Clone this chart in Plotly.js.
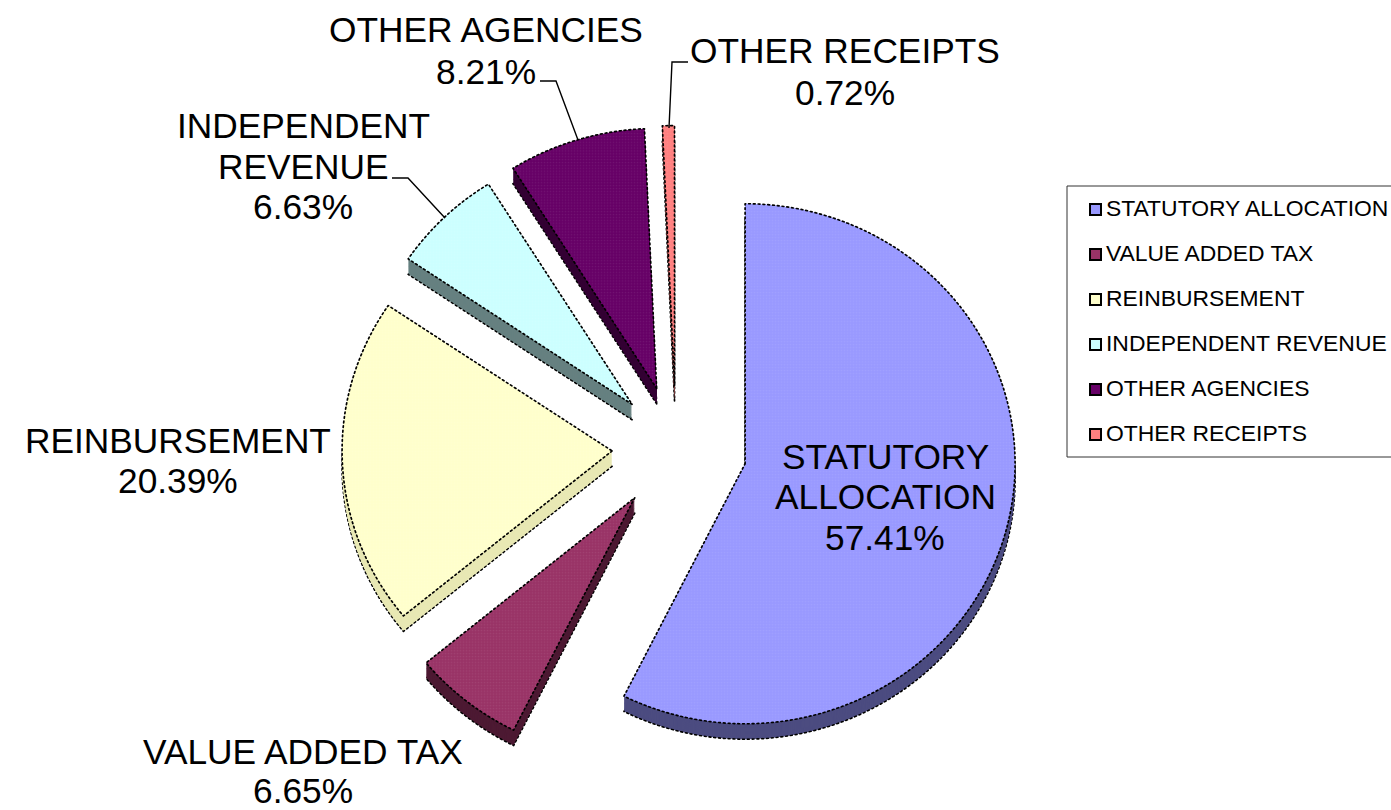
<!DOCTYPE html>
<html>
<head>
<meta charset="utf-8">
<script src="https://cdn.plot.ly/plotly-3.0.1.min.js"></script>
<style>
html,body{margin:0;padding:0;background:#fff;overflow:hidden}
#chart{width:1391px;height:810px}
.pielayer .slice path.surface{stroke-dasharray:1.8 3;stroke-linecap:round}
.pielayer{transform-origin:676px 448px;transform:scaleY(0.963)}
</style>
</head>
<body>
<div id="chart"></div>
<script>
const categories = ['STATUTORY ALLOCATION','VALUE ADDED TAX','REINBURSEMENT','INDEPENDENT REVENUE','OTHER AGENCIES','OTHER RECEIPTS'];
const shares = [57.41, 6.65, 20.39, 6.63, 8.21, 0.72];
const topColors = ['#9999FF','#993366','#FFFFCC','#CCFFFF','#660066','#FF8080'];
const sideColors = ['#4C4C80','#4D1A33','#E8E8B4','#668080','#330033','#804040'];
const pulls = [0.263, 0.245, 0.237, 0.234, 0.240, 0.240];

const W = 1391, H = 810;
const px = x => x / W, py = y => 1 - y / H;
const FONT = 'Liberation Sans, Arial, sans-serif';

// pie placement (pixels)
const cx = 676, cy = 448, R = 270, depth = 16;
const half = R * (1 + Math.max(...pulls));

function pie(dy, colors, lineW, isTop) {
  const t = {
    type: 'pie', labels: categories, values: shares, sort: false, direction: 'clockwise', rotation: 0,
    pull: pulls, textinfo: 'none', showlegend: false,
    hoverinfo: isTop ? 'label+percent' : 'skip',
    domain: { x: [px(cx - half), px(cx + half)], y: [py(cy + dy + half), py(cy + dy - half)] },
    marker: { colors: colors, line: { color: '#000', width: lineW } }
  };
  if (isTop) t.marker.pattern = { shape: '.', size: 3, solidity: 0.25, fgcolor: '#ffffff', fgopacity: 0.07, fillmode: 'overlay' };
  return t;
}
const data = [];
for (let d = depth; d >= 1; d--) data.push(pie(d, sideColors, d === depth ? 1.7 : 0, false));
data.push(pie(0, topColors, 1.7, true));

const pct = v => v.toFixed(2) + '%';
const dataLabels = [
  { lines: ['STATUTORY', 'ALLOCATION', pct(shares[0])], x: 885, y: [456, 496, 537] },
  { lines: ['VALUE ADDED TAX', pct(shares[1])], x: 303, y: [751, 790] },
  { lines: ['REINBURSEMENT', pct(shares[2])], x: 178, y: [440, 481] },
  { lines: ['INDEPENDENT', 'REVENUE', pct(shares[3])], x: 303, y: [125, 166, 207] },
  { lines: ['OTHER AGENCIES', pct(shares[4])], x: 486, y: [30, 71] },
  { lines: ['OTHER RECEIPTS', pct(shares[5])], x: 845, y: [50, 92] }
];
const annotations = [];
dataLabels.forEach(l => l.lines.forEach((s, i) => annotations.push({
  text: s, xref: 'paper', yref: 'paper', x: px(l.x), y: py(l.y[i]), xanchor: 'center', yanchor: 'middle',
  showarrow: false, font: { family: FONT, size: 35.3, color: '#000' }
})));

const shapes = [];
function poly(points) {
  return { type: 'path', xref: 'paper', yref: 'paper', line: { color: '#000', width: 1.4 },
    path: points.map((p, i) => (i ? 'L' : 'M') + px(p[0]) + ',' + py(p[1])).join(' ') };
}
shapes.push(poly([[540, 81], [556, 81], [578, 140]]));
shapes.push(poly([[688, 62], [672, 62], [669, 128]]));
shapes.push(poly([[392, 178], [408, 178], [445, 218]]));

// legend
shapes.push({ type: 'rect', xref: 'paper', yref: 'paper', x0: px(1067), x1: px(1392), y0: py(457), y1: py(186),
  line: { color: '#333', width: 1 }, fillcolor: 'rgba(0,0,0,0)' });
const legendRows = [209, 254, 299, 344, 389, 434];
categories.forEach((c, i) => {
  const y = legendRows[i];
  shapes.push({ type: 'rect', xref: 'paper', yref: 'paper', x0: px(1090), x1: px(1101), y0: py(y + 6), y1: py(y - 5),
    line: { color: '#000', width: 2 }, fillcolor: topColors[i] });
  annotations.push({ text: c, xref: 'paper', yref: 'paper', x: px(1104), y: py(y - 1), xanchor: 'left', yanchor: 'middle',
    showarrow: false, font: { family: FONT, size: 22.9, color: '#000' } });
});

Plotly.newPlot('chart', data, {
  width: W, height: H, margin: { l: 0, r: 0, t: 0, b: 0 },
  paper_bgcolor: '#fff', showlegend: false, annotations, shapes
}, { displayModeBar: false });
</script>
</body>
</html>
